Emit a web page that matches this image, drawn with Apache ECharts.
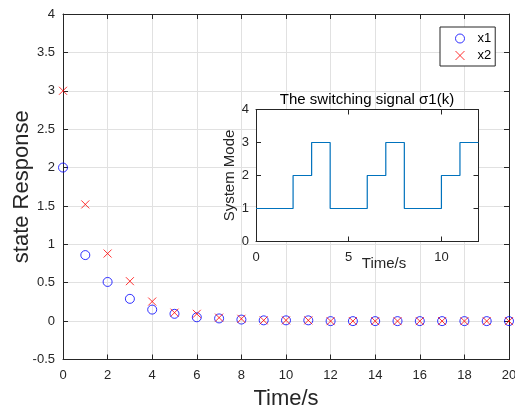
<!DOCTYPE html>
<html>
<head>
<meta charset="utf-8">
<script src="https://cdn.jsdelivr.net/npm/echarts@6/dist/echarts.min.js"></script>
<style>html,body{margin:0;padding:0;background:#fff;}#c{width:515px;height:412px;}</style>
</head>
<body>
<div id="c"></div>
<script>
// ---- data ----
const timeSteps = [0,1,2,3,4,5,6,7,8,9,10,11,12,13,14,15,16,17,18,19,20];
const x1 = [2, 0.86, 0.51, 0.29, 0.15, 0.095, 0.05, 0.035, 0.02, 0.01, 0.01, 0.01, 0, 0, 0, 0, 0, 0, 0, 0, 0];
const x2 = [3, 1.52, 0.88, 0.52, 0.255, 0.11, 0.095, 0.045, 0.03, 0.01, 0.01, 0.01, 0, 0, 0, 0, 0, 0, 0, 0, 0];
const switchTimes = [0,1,2,3,4,5,6,7,8,9,10,11,12];
const modes = [1,1,2,3,1,1,2,3,1,1,2,3,3];
const mainYTicks = { min: -0.5, max: 4, interval: 0.5 };
const mainXTicks = { min: 0, max: 20, interval: 2 };
const insetYTicks = { min: 0, max: 4, interval: 1 };
const insetXTicks = { min: 0, max: 12, interval: 5 };

const FONT = "'Liberation Sans', Arial, Helvetica, sans-serif";
const AX = '#262626';
const crossPath = 'path://M0,0L10,10M10,0L0,10';

const chart = echarts.init(document.getElementById('c'), null, { renderer: 'canvas' });

function boxAxis(extra) {
  return Object.assign({
    type: 'value',
    nameMoveOverlap: false,
    axisLine: { show: true, onZero: false, lineStyle: { color: AX, width: 1 } },
    axisTick: { show: true, inside: true, length: 5, lineStyle: { color: AX } },
    axisLabel: { show: false },
    splitLine: { show: false }
  }, extra);
}

const option = {
  animation: false,
  backgroundColor: '#fff',
  textStyle: { fontFamily: FONT },
  grid: [
    { left: 63, top: 14, width: 446, height: 345.5, containLabel: false, outerBoundsMode: 'none' },
    { left: 256, top: 109.5, width: 222.5, height: 132, show: true, backgroundColor: '#fff', borderWidth: 0, z: 2,
      containLabel: false, outerBoundsMode: 'none' }
  ],
  xAxis: [
    boxAxis({ gridIndex: 0, position: 'bottom', min: mainXTicks.min, max: mainXTicks.max, interval: mainXTicks.interval,
      axisLabel: { show: true, color: AX, fontSize: 13, margin: 9, fontFamily: FONT },
      splitLine: { show: true, lineStyle: { color: '#e1e1e1', width: 1 } },
      name: 'Time/s', nameLocation: 'middle', nameGap: 28,
      nameTextStyle: { color: AX, fontSize: 22, fontFamily: FONT } }),
    boxAxis({ gridIndex: 0, position: 'top', min: mainXTicks.min, max: mainXTicks.max, interval: mainXTicks.interval }),
    boxAxis({ gridIndex: 1, position: 'bottom', min: insetXTicks.min, max: insetXTicks.max, interval: insetXTicks.interval, z: 3,
      axisLabel: { show: true, color: AX, fontSize: 13, margin: 9, fontFamily: FONT, showMaxLabel: false } }),
    boxAxis({ gridIndex: 1, position: 'top', min: insetXTicks.min, max: insetXTicks.max, interval: insetXTicks.interval, z: 3 })
  ],
  yAxis: [
    boxAxis({ gridIndex: 0, position: 'left', min: mainYTicks.min, max: mainYTicks.max, interval: mainYTicks.interval,
      axisLabel: { show: true, color: AX, fontSize: 13, margin: 8, fontFamily: FONT },
      splitLine: { show: true, lineStyle: { color: '#e1e1e1', width: 1 } },
      name: 'state Response', nameLocation: 'middle', nameGap: 30,
      nameTextStyle: { color: AX, fontSize: 22, fontFamily: FONT } }),
    boxAxis({ gridIndex: 0, position: 'right', min: mainYTicks.min, max: mainYTicks.max, interval: mainYTicks.interval }),
    boxAxis({ gridIndex: 1, position: 'left', min: insetYTicks.min, max: insetYTicks.max, interval: insetYTicks.interval, z: 3,
      axisLabel: { show: true, color: AX, fontSize: 13, margin: 7, fontFamily: FONT },
      name: 'System Mode', nameLocation: 'middle', nameGap: 19,
      nameTextStyle: { color: AX, fontSize: 15, fontFamily: FONT } }),
    boxAxis({ gridIndex: 1, position: 'right', min: insetYTicks.min, max: insetYTicks.max, interval: insetYTicks.interval, z: 3 })
  ],
  legend: {
    orient: 'vertical', left: 440, top: 27,
    padding: [5, 4, 4, 15], itemWidth: 9, itemHeight: 9, itemGap: 4,
    borderColor: AX, borderWidth: 1, backgroundColor: '#fff', borderRadius: 0,
    textStyle: { fontSize: 13, color: '#000', fontFamily: FONT, padding: [0, 0, 0, 8] },
    data: [
      { name: 'x1', icon: 'circle', itemStyle: { color: 'rgba(0,0,0,0)', borderColor: '#0000ff', borderWidth: 1 } },
      { name: 'x2', icon: crossPath, itemStyle: { color: 'rgba(0,0,0,0)', borderColor: '#ff0000', borderWidth: 1 } }
    ]
  },
  graphic: [
    { type: 'text', z: 10, style: { text: 'The switching signal σ1(k)', x: 367, y: 100, align: 'center', verticalAlign: 'middle',
      font: "15px " + FONT, fill: '#000' } },
    { type: 'text', z: 10, style: { text: 'Time/s', x: 384, y: 264, align: 'center', verticalAlign: 'middle',
      font: "15px " + FONT, fill: AX } }
  ],
  series: [
    { name: 'x1', type: 'scatter', xAxisIndex: 0, yAxisIndex: 0, symbol: 'circle', symbolSize: 9,
      itemStyle: { color: 'rgba(0,0,0,0)', borderColor: '#0000ff', borderWidth: 1 },
      data: timeSteps.map((t, i) => [t, x1[i]]), z: 2 },
    { name: 'x2', type: 'scatter', xAxisIndex: 0, yAxisIndex: 0, symbol: crossPath, symbolSize: 8,
      itemStyle: { color: 'rgba(0,0,0,0)', borderColor: '#ff0000', borderWidth: 1 },
      data: timeSteps.map((t, i) => [t, x2[i]]), z: 3 },
    { name: 'sigma', type: 'line', xAxisIndex: 2, yAxisIndex: 2, step: 'end', showSymbol: false, symbol: 'none',
      lineStyle: { color: '#0072BD', width: 1.2 }, z: 4,
      data: switchTimes.map((t, i) => [t, modes[i]]) }
  ]
};
chart.setOption(option);
</script>
</body>
</html>
